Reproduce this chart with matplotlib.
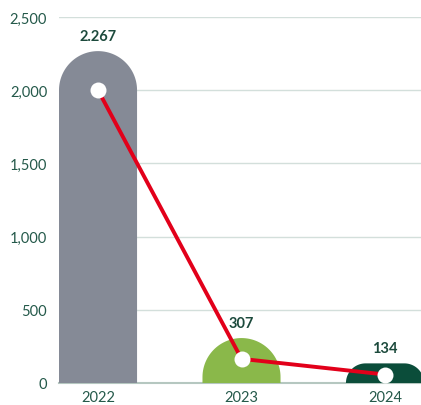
import numpy as np
import matplotlib
matplotlib.use("Agg")
import matplotlib.pyplot as plt
from matplotlib.patches import Polygon

# ---------- DATA ----------
years = ["2022", "2023", "2024"]
bar_values = [2267, 307, 134]
bar_labels = ["2.267", "307", "134"]
line_values = [2000, 165, 58]
bar_colors = ["#858a96", "#8ab84a", "#0b4d3a"]

plt.rcParams["font.family"] = ["Lato", "DejaVu Sans"]

W, H = 421, 406
fig = plt.figure(figsize=(W / 100, H / 100), dpi=100)
ax = fig.add_axes([59 / W, 1 - 384 / H, 1 - 59 / W, (384 - 18) / H])

x = np.arange(len(years))
bar_w = 0.544
ax.set_xlim(-bar_w / 2, 2.251)
ax.set_ylim(0, 2500)

# pixel scale, used to make the rounded tops circular on screen
ax_w_px = ax.get_position().width * W
ax_h_px = ax.get_position().height * H
px_x = ax_w_px / (ax.get_xlim()[1] - ax.get_xlim()[0])
px_y = ax_h_px / (ax.get_ylim()[1] - ax.get_ylim()[0])


def rounded_bar(xc, h, w, color):
    r_px = w / 2 * px_x
    h_px = h * px_y
    rc = min(r_px, h_px)           # corner radius in px
    rx = rc / px_x
    ry = rc / px_y
    left, right = xc - w / 2, xc + w / 2
    t = np.linspace(0, np.pi / 2, 30)
    # right corner (from side up to top), left corner (top to side)
    rcx = right - rx + rx * np.cos(t)
    rcy = h - ry + ry * np.sin(t)
    lcx = left + rx - rx * np.cos(t[::-1])
    lcy = h - ry + ry * np.sin(t[::-1])
    xs = np.concatenate([[left, right], rcx, lcx])
    ys = np.concatenate([[0, 0], rcy, lcy])
    ax.add_patch(Polygon(np.column_stack([xs, ys]), closed=True,
                         facecolor=color, edgecolor="none", zorder=2))


for xi, v, c in zip(x, bar_values, bar_colors):
    rounded_bar(xi, v, bar_w, c)

for xi, v, lab in zip(x, bar_values, bar_labels):
    ax.annotate(lab, (xi, v), xytext=(0, 11), textcoords="offset points",
                ha="center", va="center", fontsize=10.5, fontweight="bold",
                color="#1c4a3c", zorder=5)

ax.plot(x, line_values, color="#e2001a", linewidth=2.8, zorder=3)
ax.plot(x, line_values, "o", markersize=11.5, markerfacecolor="white",
        markeredgecolor="none", zorder=4)

ax.set_yticks([0, 500, 1000, 1500, 2000, 2500])
ax.set_yticklabels(["0", "500", "1,000", "1,500", "2,000", "2,500"])
ax.set_xticks(x)
ax.set_xticklabels(years)
ax.tick_params(axis="y", length=0, pad=8.5, labelsize=10.5, labelcolor="#24594a")
ax.tick_params(axis="x", length=0, pad=5, labelsize=10.5, labelcolor="#24594a")

ax.grid(axis="y", color="#d3dfdb", linewidth=1, zorder=0)
ax.set_axisbelow(True)
for s in ["top", "right", "left"]:
    ax.spines[s].set_visible(False)
ax.spines["bottom"].set_color("#b5c7c0")
ax.spines["bottom"].set_linewidth(1.5)
ax.spines["bottom"].set_zorder(1)

fig.savefig("out.png", dpi=100)
